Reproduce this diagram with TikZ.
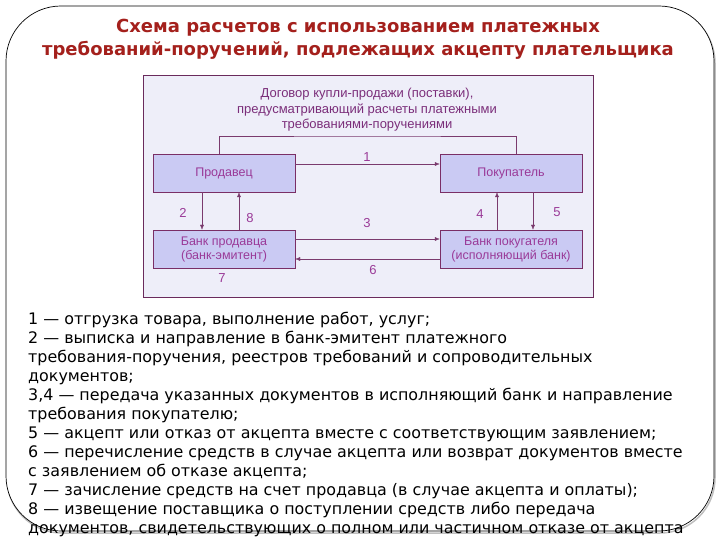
\documentclass[tikz,border=0pt]{standalone}
\usepackage{fontspec}
\setmainfont{DejaVu Sans}
\newfontfamily\diagfont{Liberation Sans}
\usetikzlibrary{arrows.meta}
\definecolor{titlered}{HTML}{A4201C}
\definecolor{panelfill}{HTML}{EEEEF9}
\definecolor{panelline}{HTML}{6A2A5C}
\definecolor{boxfill}{HTML}{CACAF3}
\definecolor{boxline}{HTML}{7A2E66}
\definecolor{boxtext}{HTML}{9A3A98}
\definecolor{arrowline}{HTML}{7A3A6E}
\tikzset{
  party/.style={draw=boxline,fill=boxfill,minimum width=142pt,minimum height=38pt,
    text=boxtext,font=\diagfont\fontsize{12.5}{14}\selectfont,align=center,inner sep=1pt},
  arr/.style={draw=arrowline,-{Latex[length=5pt,width=4pt]}},
  num/.style={text=boxtext,font=\diagfont\fontsize{13}{14}\selectfont}
}
\begin{document}
\begin{tikzpicture}[x=1pt,y=-1pt]
	\useasboundingbox (0,0) rectangle (720,540);
	\fill[white] (0,0) rectangle (720,540);
	% outer frame
	\draw[gray!50,line width=1.5pt,rounded corners=55pt] (7,8) rectangle (715,533);
	\draw[black,line width=0.7pt,rounded corners=55pt,fill=white] (6,6) rectangle (714,531);
	\node[text=titlered,font=\bfseries\fontsize{18}{23}\selectfont,align=center] (title) at (358,39)
	  {Схема расчетов с использованием платежных\\требований-поручений, подлежащих акцепту плательщика};
	% diagram panel
	\draw[panelline,fill=panelfill] (143,75) rectangle (593,297);
	\node[text=boxtext!80!black,font=\diagfont\fontsize{13}{15.5}\selectfont,align=center] (contract) at (367,110)
	  {Договор купли-продажи (поставки),\\предусматривающий расчеты платежными\\требованиями-поручениями};
	\coordinate (top) at (367,136);
	\node[party] (seller) at (224,173) {Продавец};
	\node[party] (buyer) at (511,173) {Покупатель};
	\node[party] (sbank) at (224,249) {Банк продавца\\(банк-эмитент)};
	\node[party] (bbank) at (511,249) {Банк покугателя\\(исполняющий банк)};
	\draw[arrowline] ([xshift=-5pt]seller.north) |- (top) -| ([xshift=5pt]buyer.north);
	\draw[arr] ([yshift=9pt]seller.east) -- ([yshift=9pt]buyer.west);
	\draw[arr] ([xshift=-22pt]seller.south) -- ([xshift=-22pt]sbank.north);
	\draw[arr] ([xshift=15pt]sbank.north) -- ([xshift=15pt]seller.south);
	\draw[arr] ([yshift=10pt]sbank.east) -- ([yshift=10pt]bbank.west);
	\draw[arr] ([yshift=-10pt]bbank.west) -- ([yshift=-10pt]sbank.east);
	\draw[arr] ([xshift=-14pt]bbank.north) -- ([xshift=-14pt]buyer.south);
	\draw[arr] ([xshift=22pt]buyer.south) -- ([xshift=22pt]bbank.north);
	\node[num] (n1) at (367,157) {1};
	\node[num] (n2) at (183,213) {2};
	\node[num] (n8) at (250,218) {8};
	\node[num] (n3) at (367,223) {3};
	\node[num] (n6) at (373,270) {6};
	\node[num] (n7) at (222,278) {7};
	\node[num] (n4) at (480,214) {4};
	\node[num] (n5) at (557,212) {5};
	% legend
	\node[anchor=north west,align=left,inner sep=0pt,font=\fontsize{15.9}{19}\selectfont] (legend) at (28,312)
	  {1 — отгрузка товара, выполнение работ, услуг;\\
	   2 — выписка и направление в банк-эмитент платежного\\
	   требования-поручения, реестров требований и сопроводительных\\
	   документов;\\
	   3,4 — передача указанных документов в исполняющий банк и направление\\
	   требования покупателю;\\
	   5 — акцепт или отказ от акцепта вместе с соответствующим заявлением;\\
	   6 — перечисление средств в случае акцепта или возврат документов вместе\\
	   с заявлением об отказе акцепта;\\
	   7 — зачисление средств на счет продавца (в случае акцепта и оплаты);\\
	   8 — извещение поставщика о поступлении средств либо передача\\
	   документов, свидетельствующих о полном или частичном отказе от акцепта};
\end{tikzpicture}
\end{document}
